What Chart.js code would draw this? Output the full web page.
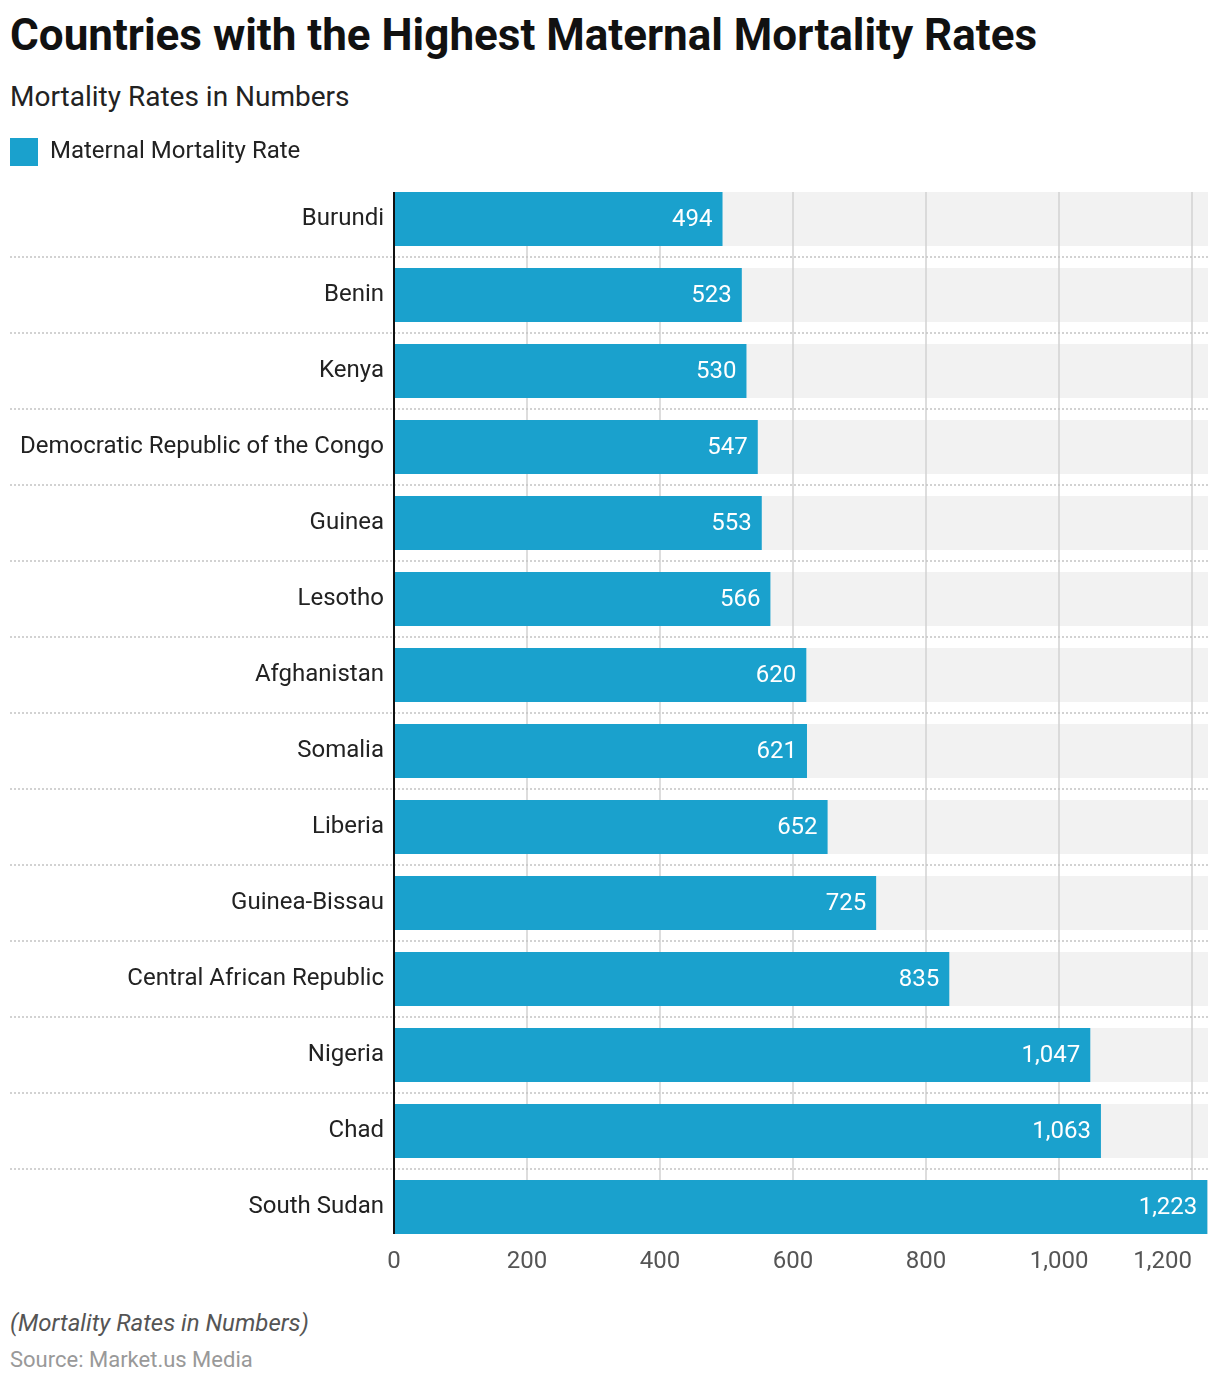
<!DOCTYPE html>
<html>
<head>
<meta charset="utf-8">
<script src="https://cdn.jsdelivr.net/npm/chart.js@4.4.1/dist/chart.umd.min.js"></script>
<style>
  body { margin:0; background:#fff; font-family:Roboto, sans-serif; }
  #page { position:relative; width:1220px; height:1386px; }
  .title { position:absolute; left:10px; top:9px; font-size:44px; font-weight:700; color:#111; white-space:nowrap; }
  .sub { position:absolute; left:10px; top:80px; font-size:28px; color:#222; }
  .note { position:absolute; left:10px; top:1309px; font-size:24px; font-style:italic; color:#555; }
  .src { position:absolute; left:10px; top:1347px; font-size:22px; color:#999; }
  #wrap { position:absolute; left:0; top:128px; width:1220px; height:1177px; }
</style>
</head>
<body>
<div id="page">
  <div class="title">Countries with the Highest Maternal Mortality Rates</div>
  <div class="sub">Mortality Rates in Numbers</div>
  <div id="wrap"><canvas id="myChart"></canvas></div>
  <div class="note">(Mortality Rates in Numbers)</div>
  <div class="src">Source: Market.us Media</div>
</div>
<script>
const countries = ["Burundi","Benin","Kenya","Democratic Republic of the Congo","Guinea","Lesotho",
  "Afghanistan","Somalia","Liberia","Guinea-Bissau","Central African Republic","Nigeria","Chad","South Sudan"];
const rates = [494,523,530,547,553,566,620,621,652,725,835,1047,1063,1223];
const xTicks = [0,200,400,600,800,1000,1200];
const seriesName = "Maternal Mortality Rate";

Chart.defaults.font.family = "Roboto";

// a bit more room under the legend
const legendGap = {
  id: 'legendGap',
  beforeLayout(chart) {
    const lg = chart.legend;
    if (lg && !lg._gap) {
      const fit = lg.fit.bind(lg);
      lg.fit = function() { fit(); this.height += 5; };
      lg._gap = true;
    }
  }
};

// grey bands, grid, dotted separators behind the bars
const decor = {
  id: 'decor',
  beforeDatasetsDraw(chart) {
    const ctx = chart.ctx, a = chart.chartArea, x = chart.scales.x;
    const bars = chart.getDatasetMeta(0).data;
    const top = bars[0].y - bars[0].height/2;
    const last = bars[bars.length-1];
    const bot = last.y + last.height/2;
    ctx.save();
    ctx.fillStyle = '#f2f2f2';
    bars.forEach(b => ctx.fillRect(a.left, b.y - b.height/2, a.right - a.left, b.height));
    ctx.strokeStyle = '#d2d2d2';
    ctx.lineWidth = 1.5;
    xTicks.forEach(v => {
      if (v === 0) return;
      const px = Math.round(x.getPixelForValue(v));
      ctx.beginPath(); ctx.moveTo(px, top); ctx.lineTo(px, bot); ctx.stroke();
    });
    ctx.strokeStyle = '#c4c4c4';
    ctx.setLineDash([2,2]);
    for (let i = 1; i < bars.length; i++) {
      const yy = Math.round((bars[i-1].y + bars[i].y)/2);
      ctx.beginPath(); ctx.moveTo(10, yy); ctx.lineTo(a.right, yy); ctx.stroke();
    }
    ctx.restore();
  },
  afterDatasetsDraw(chart) {
    const ctx = chart.ctx, a = chart.chartArea, x = chart.scales.x;
    const bars = chart.getDatasetMeta(0).data;
    const top = bars[0].y - bars[0].height/2;
    const last = bars[bars.length-1];
    const bot = last.y + last.height/2;
    ctx.save();
    ctx.strokeStyle = '#111';
    ctx.lineWidth = 2;
    ctx.beginPath(); ctx.moveTo(a.left, top); ctx.lineTo(a.left, bot); ctx.stroke();
    // values
    ctx.fillStyle = '#fff';
    ctx.font = '24px Roboto';
    ctx.textAlign = 'right';
    ctx.textBaseline = 'middle';
    bars.forEach((b, i) => ctx.fillText(rates[i].toLocaleString('en-US'), b.x - 10, b.y + 1));
    // x tick labels
    ctx.fillStyle = '#555';
    xTicks.forEach((v, i) => {
      ctx.textAlign = i === xTicks.length - 1 ? 'right' : 'center';
      ctx.fillText(v.toLocaleString('en-US'), x.getPixelForValue(v), a.bottom + 17);
    });
    ctx.restore();
  }
};

new Chart(document.getElementById('myChart'), {
  type: 'bar',
  data: {
    labels: countries,
    datasets: [{
      label: seriesName,
      data: rates,
      backgroundColor: '#1aa1cd',
      borderWidth: 0,
      barPercentage: 1,
      categoryPercentage: 0.71
    }]
  },
  options: {
    indexAxis: 'y',
    responsive: true,
    maintainAspectRatio: false,
    animation: false,
    layout: { padding: { left: 0, right: 12, top: 0, bottom: 0 } },
    plugins: {
      legend: {
        position: 'top',
        align: 'start',
        labels: { boxWidth: 28, boxHeight: 28, color: '#222', font: { size: 24 }, padding: 10 }
      },
      tooltip: { enabled: false }
    },
    scales: {
      x: {
        min: 0,
        max: 1224,
        afterBuildTicks: s => { s.ticks = xTicks.map(v => ({ value: v })); },
        afterFit: s => { s.height = 60; },
        ticks: { display: false },
        grid: { display: false },
        border: { display: false }
      },
      y: {
        afterFit: s => { s.width = 394; },
        ticks: { color: '#222', font: { size: 24 }, padding: 10 },
        grid: { display: false, drawTicks: false },
        border: { display: false }
      }
    }
  },
  plugins: [legendGap, decor]
});
</script>
</body>
</html>
